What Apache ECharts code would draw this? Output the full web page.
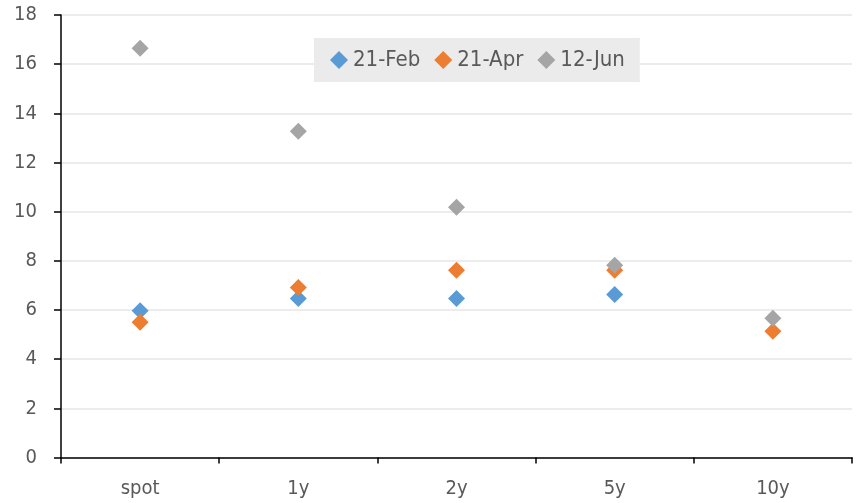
<!DOCTYPE html>
<html>
<head>
<meta charset="utf-8">
<script src="https://cdn.jsdelivr.net/npm/echarts@6/dist/echarts.min.js"></script>
<style>
  html, body { margin: 0; padding: 0; background: #fff; }
  #chart { width: 856px; height: 503px; }
</style>
</head>
<body>
<div id="chart"></div>
<script>
// tenors along the x axis
const categories = ['spot', '1y', '2y', '5y', '10y']
// values per date (null = no point)
const feb21 = [5.97, 6.47, 6.47, 6.63, null]
const apr21 = [5.5, 6.92, 7.62, 7.62, 5.14]
const jun12 = [16.65, 13.27, 10.18, 7.82, 5.66]
const yTicks = [0, 2, 4, 6, 8, 10, 12, 14, 16, 18]

const colors = {
  blue: '#5b9bd5',
  orange: '#ed7d31',
  gray: '#a5a5a5',
  text: '#595959',
  grid: '#e6e6e6',
  axis: '#000'
}
const font = "'DejaVu Sans Condensed', 'Liberation Sans', sans-serif"

const chart = echarts.init(document.getElementById('chart'))

const mkSeries = (name, data, color) => ({
  name,
  type: 'scatter',
  symbol: 'diamond',
  symbolSize: 17,
  itemStyle: { color, opacity: 1 },
  data
})

chart.setOption({
  animation: false,
  backgroundColor: '#fff',
  textStyle: { fontFamily: font },
  grid: { left: 61, right: 4, top: 15, bottom: 45.5 },
  legend: {
    left: 314,
    top: 38,
    padding: [9, 15, 9, 16],
    backgroundColor: '#ebebeb',
    icon: 'diamond',
    itemWidth: 18,
    itemHeight: 18,
    itemGap: 14,
    textStyle: { color: colors.text, fontSize: 22, fontFamily: font, lineHeight: 26 },
    data: ['21-Feb', '21-Apr', '12-Jun']
  },
  xAxis: {
    type: 'category',
    data: categories,
    boundaryGap: true,
    axisLine: { lineStyle: { color: colors.axis, width: 1.5 } },
    axisTick: { show: true, length: 6, lineStyle: { color: colors.axis, width: 1.5 } },
    axisLabel: { color: colors.text, fontSize: 20, margin: 21, fontFamily: font },
    splitLine: { show: false }
  },
  yAxis: {
    type: 'value',
    min: yTicks[0],
    max: yTicks[yTicks.length - 1],
    interval: 2,
    axisLine: { show: true, lineStyle: { color: colors.axis, width: 1.5 } },
    axisTick: { show: true, length: 7, lineStyle: { color: colors.axis, width: 1.5 } },
    axisLabel: { color: colors.text, fontSize: 20, margin: 24, fontFamily: font },
    splitLine: { lineStyle: { color: colors.grid, width: 1.5 } }
  },
  series: [
    mkSeries('21-Feb', feb21, colors.blue),
    mkSeries('21-Apr', apr21, colors.orange),
    mkSeries('12-Jun', jun12, colors.gray)
  ]
})
</script>
</body>
</html>
